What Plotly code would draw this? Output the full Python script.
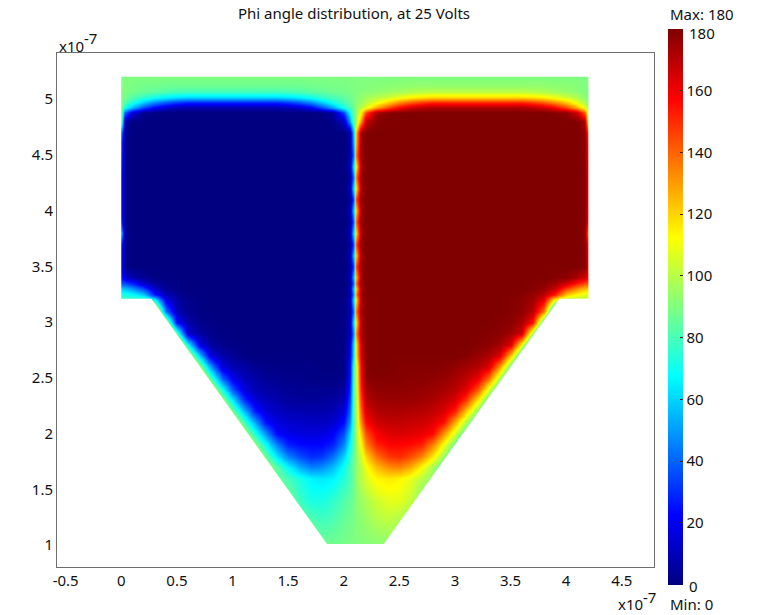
import plotly.graph_objects as go

# Units of 1e-7 on both axes; phi angle in degrees
x_values = [0, 0.03, 0.1, 0.2, 0.3, 0.4, 0.5, 0.6, 0.7, 0.8, 0.9, 1.0, 1.1, 1.2, 1.3, 1.4, 1.5, 1.6, 1.7, 1.8, 1.9, 2.0, 2.05, 2.09,
            2.11, 2.15, 2.2, 2.3, 2.4, 2.5, 2.6, 2.7, 2.8, 2.9, 3.0, 3.1, 3.2, 3.3, 3.4, 3.5, 3.6, 3.7, 3.8, 3.9, 4.0, 4.1, 4.17, 4.2]

y_values = [1.0, 1.2, 1.4, 1.6, 1.7, 1.8, 1.9, 2.0, 2.1, 2.2, 2.3, 2.4, 2.5, 2.6, 2.7, 2.8, 2.9, 3.0, 3.1, 3.2, 3.25, 3.3, 3.35, 3.4, 3.5,
            3.6, 3.7, 3.8, 3.9, 4.0, 4.1, 4.2, 4.3, 4.4, 4.5, 4.6, 4.7, 4.8, 4.88, 4.93, 4.97, 5.02, 5.07, 5.12, 5.2]

row_100 = [90]*18 + [90,88,88,89,89,90] + [90,91,91,92,92,90] + [90]*18
row_120 = [90]*18 + [84,80,82,86,88,89] + [91,92,94,98,100,96] + [90]*18
row_140 = [90]*17 + [78,72,72,76,82,85,88] + [92,95,98,104,108,108,102] + [90]*17
row_160 = [90]*15 + [88,80,72,66,64,66,74,80,87] + [93,100,106,114,116,114,108,100,92] + [90]*15
row_170 = [90]*14 + [100,84,68,54,46,48,56,70,80,87] + [93,100,110,124,132,134,126,112,96,80] + [90]*14
row_180 = [90]*13 + [108,86,64,46,36,30,32,42,60,76,86] + [94,104,120,138,148,150,144,134,116,94,72] + [90]*13
row_190 = [90]*12 + [117,93,69,45,28,24,23,23,28,46,68,85] + [95,112,134,152,157,157,156,152,135,111,87,63] + [90]*12
row_200 = [90]*11 + [126,100,74,48,23,19,17,16,17,21,36,60,84] + [96,120,144,159,163,164,163,161,157,132,106,80,54] + [90]*11
row_210 = [90]*10 + [137,109,81,53,25,17,14,13,12,12,14,24,48,84] + [96,132,156,166,168,168,167,166,163,155,127,99,71,43] + [90]*10
row_220 = [90]*9 + [148,118,88,58,28,16,12,10,9,8,8,9,16,40,84] + [96,140,164,171,172,172,171,170,168,164,152,122,92,62,32] + [90]*9
row_230 = [90]*9 + [131,98,65,32,16,11,8,6,5,5,5,6,10,34,83] + [97,146,170,174,175,175,175,174,172,169,164,148,115,82,49] + [90]*9
row_240 = [90]*8 + [145,109,73,37,17,10,7,5,4,3,3,3,3,6,28,82] + [98,152,174,177,177,177,177,176,175,173,170,163,143,107,71,35] + [90]*8
row_250 = [90]*7 + [162,122,82,42,19,11,7,4,3] + [2,2,1,1,1] + [2,24,80] + [100,156,178] + [179,179,179,178,178] + [177,176,173,169,161,138,98,58,18] + [90]*7
row_260 = [90]*6 + [184,139,94,49,16,9,6,3,2] + [1,1,1,1,0,0] + [1,22,80] + [100,158,179] + [180,180,179,179,179,179] + [178,177,174,171,164,131,86,41,-4] + [90]*6
row_270 = [90]*6 + [161,109,57,16,8,4,1] + [0]*8 + [1,16,66] + [114,164,179] + [180]*8 + [179,176,172,164,123,71,19] + [90]*6
row_280 = [90]*5 + [188,128,68,17,6,2,1] + [0]*9 + [1,14,66] + [114,166,179] + [180]*9 + [179,178,174,163,112,52,-8] + [90]*5
row_290 = [90]*4 + [234,159,84,14,6,2,1] + [0]*10 + [1,8,50] + [130,172,179] + [180]*10 + [179,178,174,166,96,21,-54] + [90]*4
row_300 = [90,90,90,273,190,107,24,8,2,1] + [0]*11 + [1,9,66] + [114,171,179] + [180]*11 + [179,178,172,156,73,-10,-93,90,90,90]
row_310 = [90,90,90,223,133,43,10,3,1] + [0]*12 + [1,6,46] + [134,174,179] + [180]*12 + [179,177,170,137,47,-43,90,90,90]
row_320 = [80,80,80,82,66,18,6,2,1] + [0]*12 + [1,9,66] + [114,171,179] + [180]*12 + [179,178,174,162,114,98,100,100,100]
row_325 = [72,72,68,58,26,10,4,1] + [0]*13 + [0,6,50] + [130,174,180] + [180]*13 + [179,176,170,154,122,112,108,108]
row_330 = [58,56,48,34,12,4,1] + [0]*14 + [0,8,62] + [118,172,180] + [180]*14 + [179,176,168,146,132,124,122]
row_335 = [38,36,28,14,6,2,1] + [0]*14 + [0,4,44] + [136,176,180] + [180]*14 + [179,178,174,166,152,144,142]
row_340 = [25,15,8,3,1] + [0]*16 + [0,7,58] + [122,173,180] + [180]*16 + [179,177,172,165,155]
row_350 = [20,2] + [0]*19 + [0,4,38] + [142,176,180] + [180]*19 + [178,160]
row_360 = [22,2] + [0]*20 + [7,60] + [120,173] + [180]*20 + [178,158]
row_370 = [25,2] + [0]*20 + [3,38] + [142,177] + [180]*20 + [178,155]
row_380 = [50,3] + [0]*20 + [8,64] + [116,172] + [180]*20 + [177,130]
row_390 = [25,2] + [0]*20 + [4,42] + [138,176] + [180]*20 + [178,155]
row_400 = [22,2] + [0]*20 + [7,62] + [118,173] + [180]*20 + [178,158]
row_410 = [22,2] + [0]*20 + [3,38] + [142,177] + [180]*20 + [178,158]
row_420 = [22,2] + [0]*20 + [8,66] + [114,172] + [180]*20 + [178,158]
row_430 = [22,2] + [0]*20 + [4,46] + [134,176] + [180]*20 + [178,158]
row_440 = [25,2] + [0]*20 + [8,68] + [112,172] + [180]*20 + [178,155]
row_450 = [28,2] + [0]*20 + [5,46] + [134,175] + [180]*20 + [178,152]
row_460 = [30,2] + [0]*20 + [5,56] + [124,175] + [180]*20 + [178,150]
row_470 = [40,3] + [0]*20 + [6,60] + [120,174] + [180]*20 + [177,140]
row_480 = [80,8] + [0]*18 + [1,12,50,86] + [94,130,168,179] + [180]*18 + [172,100]
row_488 = [85,40,15,3,1] + [0]*14 + [1,6,35,68,86] + [94,112,145,174,179] + [180]*14 + [179,177,165,140,95]
row_493 = [88,72,55,36,22,14,10] + [8]*9 + [10,14,22,36,52,72,80,87] + [93,100,108,128,144,158,166,170] + [172]*9 + [170,166,158,144,125,108,92]
row_497 = [89,82,72,58,46,38,32] + [28]*9 + [32,38,46,58,70,80,85,88] + [92,95,100,110,122,134,142,148] + [152]*9 + [148,142,134,122,108,98,91]
row_502 = [90,88,82,76,70,65,62] + [60]*9 + [62,65,70,76,80,84,87,89] + [91,93,96,100,104,110,115,118] + [120]*9 + [118,115,110,104,98,92,90]
row_507 = [90,90,88,86,84,82,81] + [80]*9 + [81,82,84,85,87,88,89,90] + [90,91,92,93,95,96,98,99] + [100]*9 + [99,98,96,94,92,90,90]
row_512 = [90,90,89,88,88,87,87] + [87]*9 + [87,87,88,88,89,89,90,90] + [90,90,91,91,92,92,93,93] + [93]*9 + [93,93,92,92,91,90,90]
row_520 = [90]*48

z_rows = [row_100, row_120, row_140, row_160, row_170, row_180, row_190, row_200, row_210, row_220, row_230, row_240,
          row_250, row_260, row_270, row_280, row_290, row_300, row_310, row_320, row_325, row_330, row_335, row_340, row_350,
          row_360, row_370, row_380, row_390, row_400, row_410, row_420, row_430, row_440, row_450,
          row_460, row_470, row_480, row_488, row_493, row_497, row_502, row_507, row_512, row_520]

# Outline of the simulated domain, closed through the surrounding white area
mask_x = [-0.05, 4.25, 4.25, -0.05, -0.05, 0, 0, 0.27, 1.85, 2.36, 3.94, 4.2, 4.2, 0, -0.05]
mask_y = [5.3, 5.3, 0.85, 0.85, 5.3, 5.2, 3.21, 3.21, 1.01, 1.01, 3.21, 3.21, 5.2, 5.2, 5.3]

colorbar_ticks = [20, 40, 60, 80, 100, 120, 140, 160]
x_ticks = [-0.5, 0, 0.5, 1, 1.5, 2, 2.5, 3, 3.5, 4, 4.5]
y_ticks = [1, 1.5, 2, 2.5, 3, 3.5, 4, 4.5, 5]

W, H = 768, 615
L, R, T, B = 56.7, 653.7, 53.3, 567.3
FONT = "Noto Sans"
TEXT = "#111111"

def px(x):
    return (x - L) / (R - L)

def py(y):
    return (B - y) / (B - T)

jet = [[0, "rgb(0,0,128)"], [0.125, "rgb(0,0,255)"], [0.375, "rgb(0,255,255)"],
       [0.625, "rgb(255,255,0)"], [0.875, "rgb(255,0,0)"], [1, "rgb(128,0,0)"]]

fig = go.Figure()
fig.add_trace(go.Heatmap(
    x=x_values, y=y_values, z=z_rows, zmin=0, zmax=180, zsmooth="best",
    colorscale=jet, hoverinfo="skip",
    colorbar=dict(
        x=px(668), xanchor="left", xpad=0, y=py(29), yanchor="top", ypad=0,
        lenmode="pixels", len=556, thicknessmode="pixels", thickness=15,
        outlinewidth=0, borderwidth=0,
        tickmode="array", tickvals=colorbar_ticks, ticks="inside", ticklen=3,
        tickcolor="#442222", tickfont=dict(family=FONT, size=15, color=TEXT),
    ),
))
fig.add_trace(go.Scatter(
    x=mask_x, y=mask_y, mode="lines", fill="toself", fillcolor="white",
    line=dict(width=0, color="white"), hoverinfo="skip", showlegend=False,
))

axis_style = dict(showgrid=False, zeroline=False, showline=True, mirror=True,
                  linecolor="#6e6e6e", linewidth=1, ticks="",
                  tickfont=dict(family=FONT, size=15, color=TEXT))
fig.update_xaxes(range=[-0.578, 4.79], tickmode="array", tickvals=x_ticks,
                 ticktext=[f"{v:g}" for v in x_ticks], **axis_style)
fig.update_yaxes(range=[0.8045, 5.414], tickmode="array", tickvals=y_ticks,
                 ticktext=[f"{v:g}" for v in y_ticks], **axis_style)

def note(text, x, y, anchor="left", size=15):
    return dict(text=text, x=px(x), y=py(y), xref="paper", yref="paper", xanchor=anchor,
                yanchor="middle", showarrow=False,
                font=dict(family=FONT, size=size, color=TEXT))

fig.update_layout(
    width=W, height=H, autosize=False, paper_bgcolor="white", plot_bgcolor="white",
    margin=dict(l=L, r=W - R, t=T, b=H - B, pad=0, autoexpand=False),
    showlegend=False,
    title=dict(text="Phi angle distribution, at 25 Volts", x=354 / W, y=1 - 14 / H,
               xref="container", yref="container", xanchor="center", yanchor="middle",
               font=dict(family=FONT, size=15, color=TEXT)),
    annotations=[
        note("x10", 57, 46),
        note("-7", 82, 38),
        note("x10", 616, 604),
        note("-7", 641, 597),
        note("Max: 180", 668, 14),
        note("Min: 0", 668, 604),
        note("180", 687, 33),
        note("0", 687, 586),
    ],
)

fig.write_html("out.html", config={"displayModeBar": False},
               post_script="document.body.style.margin='0';")
